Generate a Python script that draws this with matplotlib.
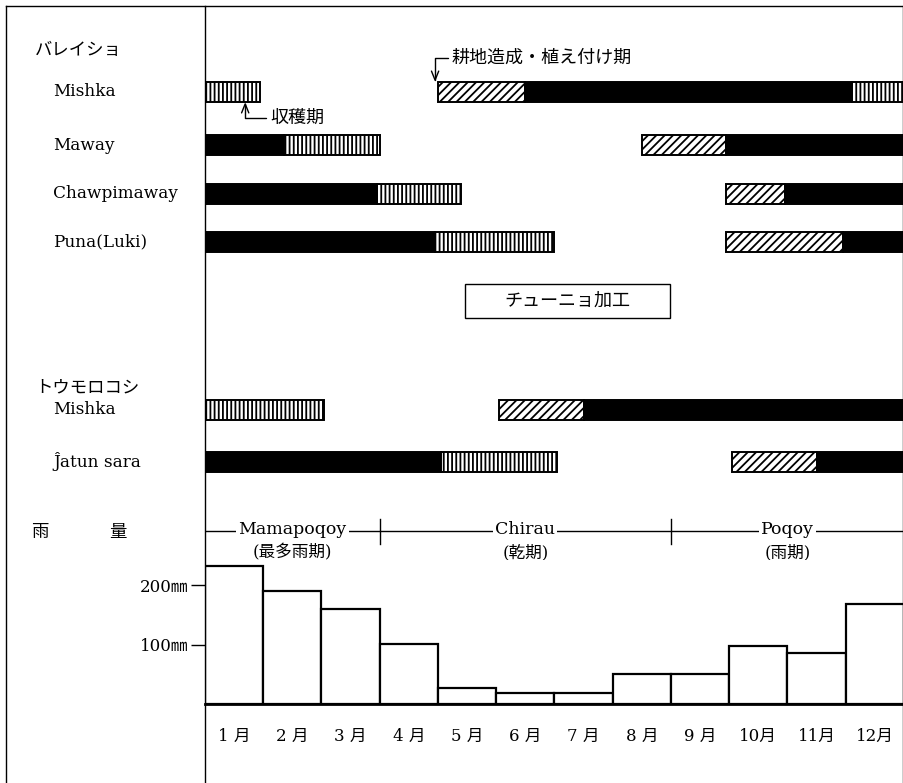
import matplotlib.pyplot as plt
from matplotlib.lines import Line2D
from matplotlib.patches import Rectangle
from matplotlib.transforms import blended_transform_factory

plt.rcParams['font.family'] = ['DejaVu Serif', 'Noto Sans CJK JP']
plt.rcParams['hatch.linewidth'] = 1.3

# data
months = ['1 月', '2 月', '3 月', '4 月', '5 月', '6 月',
          '7 月', '8 月', '9 月', '10月', '11月', '12月']
rain_mm = [232, 190, 160, 101, 27, 18, 18, 50, 50, 97, 86, 168]

crop_labels = ['Mishka', 'Maway', 'Chawpimaway', 'Puna(Luki)', 'Mishka', 'Ĵatun sara']
group_labels = ['バレイショ', 'トウモロコシ']

# (start month, end month, phase)
potato_mishka = [(0, 0.95, 'harvest'), (4.0, 5.5, 'plant'), (5.5, 11.1, 'grow'), (11.1, 12, 'harvest')]
potato_maway = [(0, 1.35, 'grow'), (1.35, 3.0, 'harvest'), (7.5, 8.95, 'plant'), (8.95, 12, 'grow')]
potato_chawpi = [(0, 2.95, 'grow'), (2.95, 4.4, 'harvest'), (8.95, 9.95, 'plant'), (9.95, 12, 'grow')]
potato_puna = [(0, 3.95, 'grow'), (3.95, 6.0, 'harvest'), (8.95, 10.95, 'plant'), (10.95, 12, 'grow')]
maize_mishka = [(0, 2.05, 'harvest'), (5.05, 6.5, 'plant'), (6.5, 12, 'grow')]
maize_jatun = [(0, 4.05, 'grow'), (4.05, 6.05, 'harvest'), (9.05, 10.5, 'plant'), (10.5, 12, 'grow')]
schedules = [potato_mishka, potato_maway, potato_chawpi, potato_puna, maize_mishka, maize_jatun]

seasons = ['Mamapoqoy', 'Chirau', 'Poqoy']
season_notes = ['(最多雨期)', '(乾期)', '(雨期)']
season_bounds = [0, 3, 8, 12]

W, H = 904, 783
def fx(px):
    return px / W
def fy(py):
    return 1 - py / H

fig = plt.figure(figsize=(W / 100, H / 100), dpi=100)

# upper part: schedule bars and season row (1 y unit = 50 px)
ax = fig.add_axes([fx(205), fy(560), 699 / W, 554 / H])
ax.set_xlim(0, 12)
ax.set_ylim(554 / 50, 0)
ax.axis('off')

row_y = [1.72, 2.78, 3.76, 4.72, 8.08, 9.12]
bar_h = 0.4
styles = {
    'grow': dict(facecolor='black', hatch=None),
    'plant': dict(facecolor='white', hatch='////'),
    'harvest': dict(facecolor='white', hatch='||||'),
}
for y, sched in zip(row_y, schedules):
    for start, end, phase in sched:
        ax.barh(y, end - start, left=start, height=bar_h, edgecolor='black',
                linewidth=1.4, **styles[phase])

lab_tr = blended_transform_factory(fig.transFigure, ax.transData)
for y, lab in zip(row_y, crop_labels):
    ax.text(fx(53), y, lab, transform=lab_tr, ha='left', va='center', fontsize=12.2)
ax.text(fx(35), 0.88, group_labels[0], transform=lab_tr, ha='left', va='center', fontsize=12.5)
ax.text(fx(35), 7.64, group_labels[1], transform=lab_tr, ha='left', va='center', fontsize=12.5)
ax.text(fx(40), 10.54, '雨', transform=lab_tr, ha='center', va='center', fontsize=12.5)
ax.text(fx(118), 10.54, '量', transform=lab_tr, ha='center', va='center', fontsize=12.5)

arrow = dict(arrowstyle='->,head_length=0.5,head_width=0.2',
             connectionstyle='angle,angleA=0,angleB=90,rad=0',
             relpos=(0, 0.5), shrinkA=1, shrinkB=0, lw=1, color='black')
ax.annotate('耕地造成・植え付け期', xy=(potato_mishka[1][0] - 0.05, row_y[0] - bar_h / 2),
            xytext=(4.24, 1.04), ha='left', va='center', fontsize=13, arrowprops=arrow)
ax.annotate('収穫期', xy=(0.69, row_y[0] + bar_h / 2),
            xytext=(1.12, 2.24), ha='left', va='center', fontsize=13, arrowprops=arrow)

# chuño box
ax.add_patch(Rectangle((4.46, 5.56), 3.52, 0.68, facecolor='white', edgecolor='black', lw=1))
ax.text(6.22, 5.9, 'チューニョ加工', ha='center', va='center', fontsize=13)

# season row
season_y = 10.5
ax.plot([0, 12], [season_y, season_y], color='black', lw=1)
for b in season_bounds[1:-1]:
    ax.plot([b, b], [season_y - 0.25, season_y + 0.25], color='black', lw=1)
for i, (name, note) in enumerate(zip(seasons, season_notes)):
    cx = (season_bounds[i] + season_bounds[i + 1]) / 2
    ax.text(cx, season_y + 0.05, name, ha='center', va='baseline', fontsize=12.5,
            bbox=dict(facecolor='white', edgecolor='none', pad=1.5))
    ax.text(cx, 10.93, note, ha='center', va='center', fontsize=12)

# rainfall bars
axr = fig.add_axes([fx(205), fy(704), 699 / W, 144 / H])
axr.set_xlim(0, 12)
axr.set_ylim(0, 144 / 0.595)
axr.bar(range(12), rain_mm, width=1, align='edge', facecolor='white',
        edgecolor='black', linewidth=1.6)
for s in ['top', 'right', 'left']:
    axr.spines[s].set_visible(False)
axr.spines['bottom'].set_linewidth(2)
axr.set_yticks([100, 200], ['100㎜', '200㎜'])
axr.tick_params(axis='y', length=10, width=1, pad=2, labelsize=12)
axr.set_xticks([i + 0.5 for i in range(12)], months)
axr.tick_params(axis='x', length=0, pad=17, labelsize=12)

# frame lines
for xs, ys in [([6, 904], [6, 6]), ([6, 6], [6, 783]), ([205, 205], [6, 783]),
               ([903, 903], [6, 783])]:
    fig.add_artist(Line2D([fx(v) for v in xs], [fy(v) for v in ys],
                          transform=fig.transFigure, color='black', lw=1))

fig.savefig('out.png', dpi=100)
